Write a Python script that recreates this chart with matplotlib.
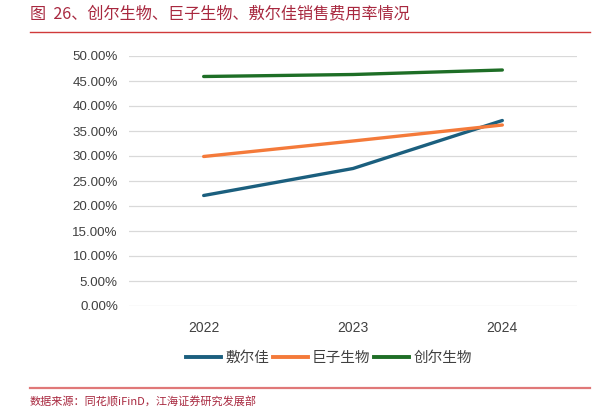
import matplotlib
matplotlib.use("Agg")
import matplotlib.pyplot as plt
import matplotlib.ticker as mticker
from matplotlib.lines import Line2D

plt.rcParams["font.family"] = ["Noto Sans CJK SC", "DejaVu Sans"]

years = ["2022", "2023", "2024"]
fuerjia = [22.1, 27.5, 37.1]      # 敷尔佳
juzi = [29.9, 33.0, 36.2]         # 巨子生物
chuanger = [45.9, 46.3, 47.2]     # 创尔生物
series_names = ["敷尔佳", "巨子生物", "创尔生物"]
y_ticks = [0, 5, 10, 15, 20, 25, 30, 35, 40, 45, 50]

colors = ["#1B5F7E", "#F47A3A", "#1E6E26"]
W, H = 608, 409

fig = plt.figure(figsize=(W / 100, H / 100), dpi=100)
ax = fig.add_axes([129 / W, 1 - 306 / H, 448 / W, 250 / H])

x = range(len(years))
for vals, c, name in zip([fuerjia, juzi, chuanger], colors, series_names):
    ax.plot(x, vals, color=c, lw=2.4, solid_capstyle="round",
            solid_joinstyle="round", label=name, zorder=3)

ax.set_xlim(-0.5, len(years) - 0.5)
ax.set_ylim(0, 50)
ax.set_yticks(y_ticks)
ax.yaxis.set_major_formatter(mticker.FuncFormatter(lambda v, _: f"{v:.2f}%"))
ax.set_xticks(list(x))
ax.set_xticklabels(years)
ax.grid(axis="y", color="#D9D9D9", lw=0.9, zorder=0)
ax.tick_params(length=0)
ax.tick_params(axis="y", pad=8, labelcolor="#404040")
ax.tick_params(axis="x", pad=11, labelcolor="#404040")
for lab in ax.get_yticklabels():
    lab.set_fontfamily(["Liberation Sans Narrow", "Liberation Sans", "DejaVu Sans"])
    lab.set_fontsize(9.6)
for lab in ax.get_xticklabels():
    lab.set_fontfamily(["Liberation Sans", "DejaVu Sans"])
    lab.set_fontsize(10)
for s in ax.spines.values():
    s.set_visible(False)

handles = [Line2D([], [], color=c, lw=2.8) for c in colors]
fig.legend(handles, series_names, loc="center", bbox_to_anchor=(329 / W, 1 - 358 / H),
           ncol=3, frameon=False, fontsize=10.5, handlelength=2.4,
           handletextpad=0.3, columnspacing=0.25, labelcolor="#404040")

# title and rules
fig.text(30 / W, 1 - 14 / H, "图  26、创尔生物、巨子生物、敷尔佳销售费用率情况",
         color="#A8283F", fontsize=11.6, va="center", ha="left")
fig.add_artist(Line2D([30 / W, 590 / W], [1 - 32 / H] * 2, color="#D03A3A", lw=1.0))
fig.add_artist(Line2D([30 / W, 590 / W], [1 - 388 / H] * 2, color="#E07878", lw=1.6))
fig.text(30 / W, 1 - 408 / H, "数据来源：同花顺iFinD，江海证券研究发展部",
         color="#A8283F", fontsize=8, va="bottom", ha="left")

fig.savefig("out.png", dpi=100)
